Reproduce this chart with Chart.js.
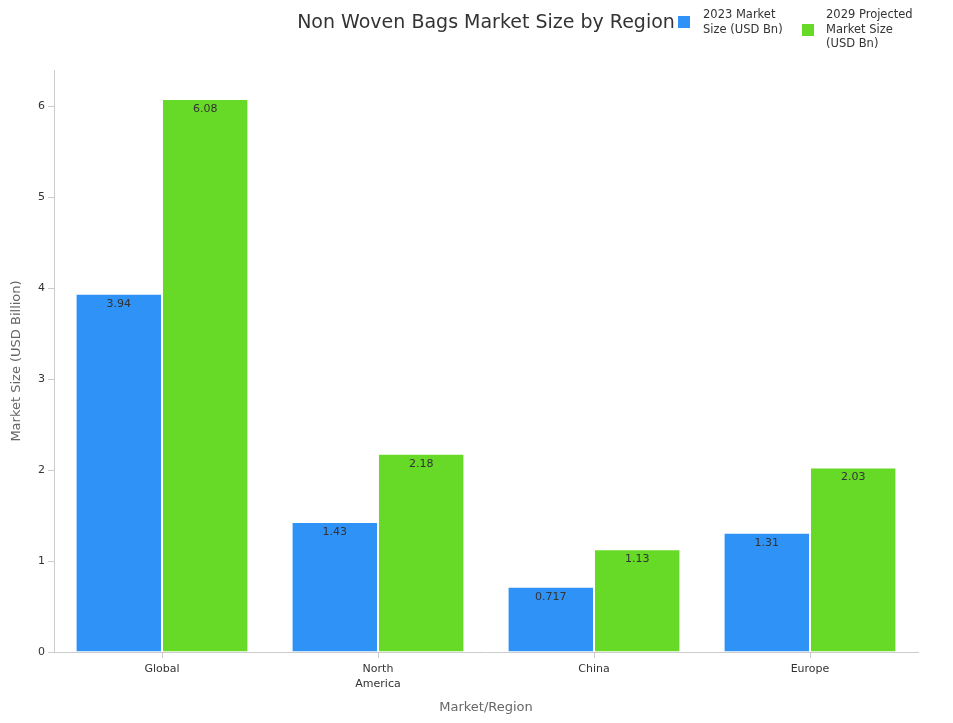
<!DOCTYPE html>
<html>
<head>
<meta charset="utf-8">
<script src="https://cdn.jsdelivr.net/npm/chart.js@4.4.0/dist/chart.umd.min.js"></script>
<style>
  html, body { margin: 0; padding: 0; background: #fff; }
  #wrap { width: 953px; height: 723px; position: relative; }
</style>
</head>
<body>
<div id="wrap"><canvas id="marketChart"></canvas></div>
<script>
// data
const regions = [['Global'], ['North', 'America'], ['China'], ['Europe']];
const size2023 = [3.94, 1.43, 0.717, 1.31];
const size2029 = [6.08, 2.18, 1.13, 2.03];
const seriesNames = [['2023 Market', 'Size (USD Bn)'], ['2029 Projected', 'Market Size', '(USD Bn)']];
const chartTitle = 'Non Woven Bags Market Size by Region';

const FONT = "'DejaVu Sans', sans-serif";
const cBlue = '#2f92f6';
const cGreen = '#66da26';

// title + legend drawn on top, the built-in legend can't do multi-line items nicely
const headerPlugin = {
    id: 'header',
    afterDraw(chart) {
        const ctx = chart.ctx;
        ctx.save();
        ctx.fillStyle = '#333';
        ctx.font = '19px ' + FONT;
        ctx.textAlign = 'center';
        ctx.textBaseline = 'middle';
        ctx.fillText(chartTitle, 486, 23);

        const items = [
            { color: cBlue, boxX: 678, boxY: 16, textX: 703 },
            { color: cGreen, boxX: 802, boxY: 24, textX: 826 }
        ];
        ctx.font = '11.5px ' + FONT;
        ctx.textAlign = 'left';
        items.forEach((it, i) => {
            ctx.fillStyle = it.color;
            ctx.fillRect(it.boxX, it.boxY, 12, 12);
            ctx.fillStyle = '#333';
            seriesNames[i].forEach((line, j) => {
                ctx.fillText(line, it.textX, 15.5 + j * 14.5);
            });
        });
        ctx.restore();
    }
};

// value labels just inside the top of each bar
const valueLabels = {
    id: 'valueLabels',
    afterDatasetsDraw(chart) {
        const ctx = chart.ctx;
        ctx.save();
        ctx.font = '11px ' + FONT;
        ctx.fillStyle = '#333';
        ctx.textAlign = 'center';
        ctx.textBaseline = 'middle';
        chart.data.datasets.forEach((ds, i) => {
            chart.getDatasetMeta(i).data.forEach((bar, j) => {
                ctx.fillText(String(ds.data[j]), bar.x, bar.y + 10);
            });
        });
        ctx.restore();
    }
};

new Chart(document.getElementById('marketChart'), {
    type: 'bar',
    data: {
        labels: regions,
        datasets: [
            { label: seriesNames[0].join(' '), data: size2023, backgroundColor: cBlue,
              borderColor: 'rgba(255,255,255,0.7)', borderWidth: 1 },
            { label: seriesNames[1].join(' '), data: size2029, backgroundColor: cGreen,
              borderColor: 'rgba(255,255,255,0.7)', borderWidth: 1 }
        ]
    },
    options: {
        responsive: true,
        maintainAspectRatio: false,
        animation: false,
        layout: { padding: { top: 70, right: 35, left: 0, bottom: 0 } },
        datasets: { bar: { categoryPercentage: 0.8, barPercentage: 1.0 } },
        plugins: {
            legend: { display: false },
            title: { display: false },
            tooltip: { enabled: false }
        },
        scales: {
            x: {
                grid: { display: true, drawOnChartArea: false, offset: false, tickLength: 6, color: '#ccc' },
                border: { display: true, color: '#ccc' },
                ticks: { color: '#333', font: { family: FONT, size: 11, lineHeight: 1.36 }, padding: 4, maxRotation: 0 },
                title: { display: true, text: 'Market/Region', color: '#666',
                         font: { family: FONT, size: 13 }, padding: { top: 4, bottom: 8 } },
                afterFit(scale) { scale.height = 71; }
            },
            y: {
                min: 0,
                max: 6.4,
                grid: { display: true, drawOnChartArea: false, tickLength: 6, color: '#ccc' },
                border: { display: true, color: '#ccc' },
                ticks: { stepSize: 1, color: '#333', font: { family: FONT, size: 11 }, padding: 3 },
                afterBuildTicks(scale) {
                    scale.ticks = scale.ticks.filter(t => Number.isInteger(t.value));
                },
                title: { display: true, text: 'Market Size (USD Billion)', color: '#666',
                         font: { family: FONT, size: 13 }, padding: { top: 9, bottom: 9 } },
                afterFit(scale) { scale.width = 54; }
            }
        }
    },
    plugins: [headerPlugin, valueLabels]
});
</script>
</body>
</html>
